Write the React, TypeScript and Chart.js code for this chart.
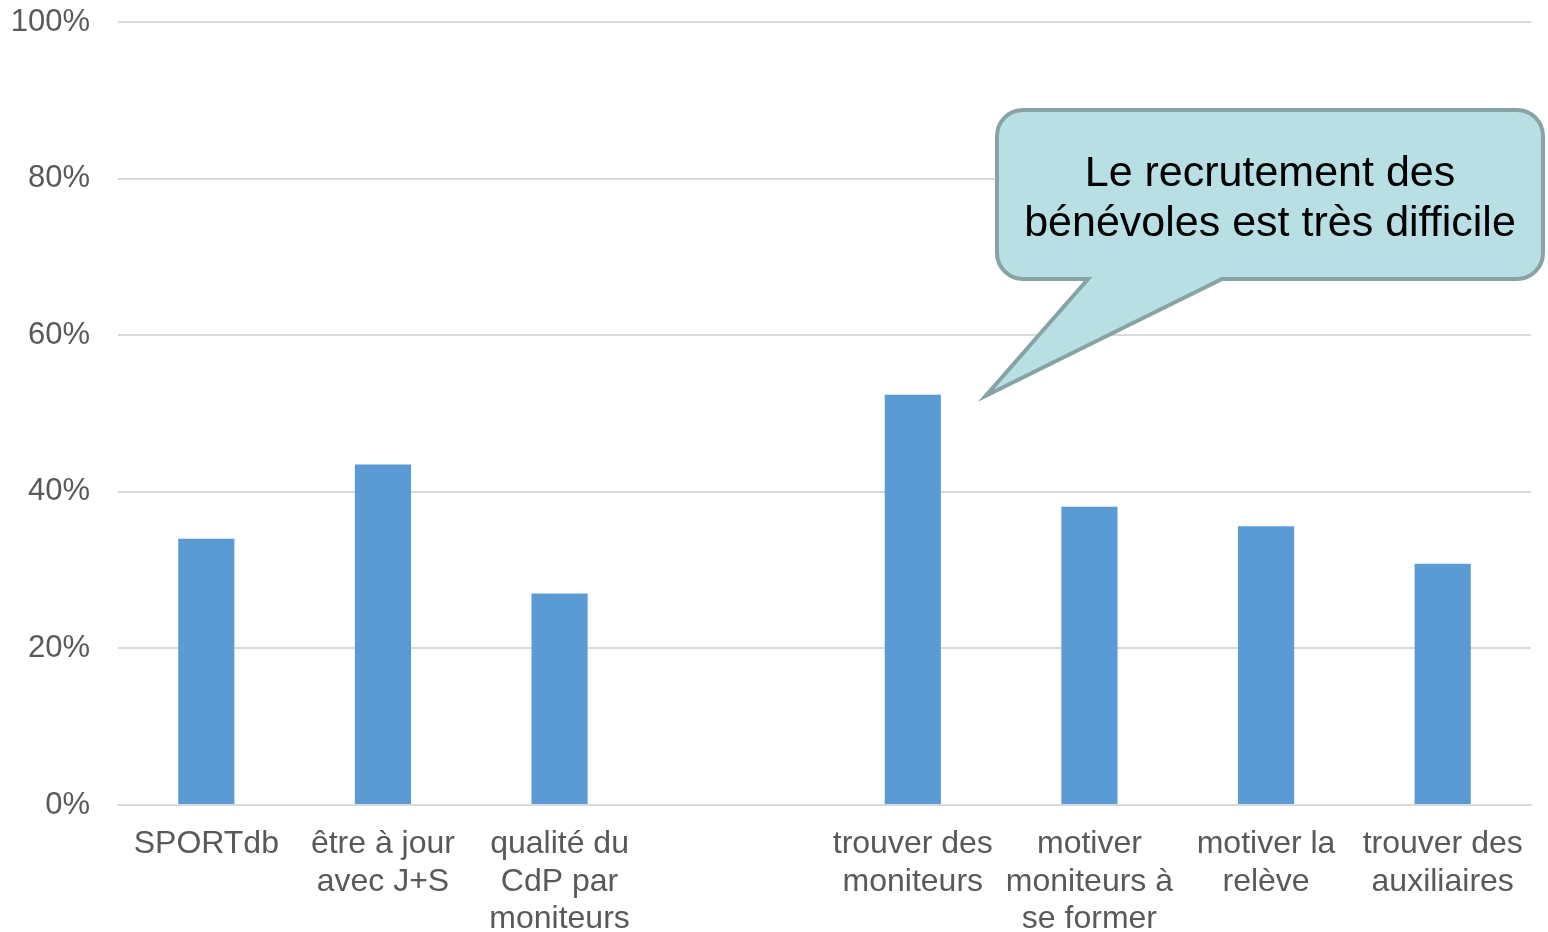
import React, { useEffect, useRef } from "react";
import { Chart, registerables } from "chart.js";

Chart.register(...registerables);

const categories: (string | string[])[] = [
  "SPORTdb",
  ["être à jour", "avec J+S"],
  ["qualité du", "CdP par", "moniteurs"],
  "",
  ["trouver des", "moniteurs"],
  ["motiver", "moniteurs à", "se former"],
  ["motiver la", "relève"],
  ["trouver des", "auxiliaires"],
];
const values: (number | null)[] = [34.0, 43.5, 27.0, null, 52.4, 38.1, 35.6, 30.8];
const yTicks = [0, 20, 40, 60, 80, 100];
const calloutLines = ["Le recrutement des", "bénévoles est très difficile"];
const calloutTargetIndex = 4;

const FONT = "'Liberation Sans', Arial, sans-serif";

const calloutPlugin = {
  id: "callout",
  afterDraw(chart: any) {
    const { ctx, chartArea } = chart;
    const meta = chart.getDatasetMeta(0);
    const bar = meta.data[calloutTargetIndex];
    if (!bar) return;
    const tipX = bar.x + 73;
    const tipY = bar.y + 1;
    const left = chartArea.right - 534;
    const right = chartArea.right + 12;
    const top = chartArea.top + 88;
    const bottom = chartArea.top + 257;
    const r = 26;
    const b1 = left + 91;
    const b2 = left + 225;
    ctx.save();
    ctx.beginPath();
    ctx.moveTo(left + r, top);
    ctx.lineTo(right - r, top);
    ctx.arcTo(right, top, right, top + r, r);
    ctx.lineTo(right, bottom - r);
    ctx.arcTo(right, bottom, right - r, bottom, r);
    ctx.lineTo(b2, bottom);
    ctx.lineTo(tipX, tipY);
    ctx.lineTo(b1, bottom);
    ctx.lineTo(left + r, bottom);
    ctx.arcTo(left, bottom, left, bottom - r, r);
    ctx.lineTo(left, top + r);
    ctx.arcTo(left, top, left + r, top, r);
    ctx.closePath();
    ctx.fillStyle = "#B8DFE3";
    ctx.fill();
    ctx.lineWidth = 4;
    ctx.strokeStyle = "#87A3A5";
    ctx.lineJoin = "miter";
    ctx.stroke();
    ctx.fillStyle = "#000000";
    ctx.font = `43px ${FONT}`;
    ctx.textAlign = "center";
    ctx.textBaseline = "middle";
    const cx = (left + right) / 2;
    calloutLines.forEach((line, i) => {
      ctx.fillText(line, cx, top + 64 + i * 50);
    });
    ctx.restore();
  },
};

export default function App() {
  const ref = useRef<HTMLCanvasElement>(null);
  useEffect(() => {
    document.body.style.margin = "0";
    const chart = new Chart(ref.current!, {
      type: "bar",
      data: {
        labels: categories,
        datasets: [
          {
            data: values,
            backgroundColor: "#5B9BD5",
            barPercentage: 0.318,
            categoryPercentage: 1,
          },
        ],
      },
      plugins: [calloutPlugin],
      options: {
        animation: false,
        responsive: false,
        maintainAspectRatio: false,
        layout: { padding: { top: 0, right: 17, bottom: 0, left: 0 } },
        plugins: { legend: { display: false }, tooltip: { enabled: false } },
        scales: {
          x: {
            grid: { display: false, drawTicks: false },
            border: { display: true, color: "#D9D9D9", width: 2 },
            ticks: {
              color: "#595959",
              font: { family: FONT, size: 32, lineHeight: 1.16 },
              padding: 21,
              maxRotation: 0,
              minRotation: 0,
              autoSkip: false,
            },
            afterFit: (s: any) => {
              s.height = 127;
            },
          },
          y: {
            min: 0,
            max: 100,
            afterBuildTicks: (s: any) => {
              s.ticks = yTicks.map((v) => ({ value: v }));
            },
            grid: { color: "#D9D9D9", lineWidth: 2, drawTicks: false },
            border: { display: false },
            ticks: {
              color: "#595959",
              font: { family: FONT, size: 31 },
              padding: 28,
              callback: (v: any) => `${v}%`,
            },
            afterFit: (s: any) => {
              s.width = 118;
              s.paddingTop = 22;
              s.paddingBottom = 0;
            },
          },
        },
      },
    });
    return () => chart.destroy();
  }, []);
  return (
    <div style={{ width: 1548, height: 932 }}>
      <canvas ref={ref} width={1548} height={932} style={{ width: 1548, height: 932 }} />
    </div>
  );
}
